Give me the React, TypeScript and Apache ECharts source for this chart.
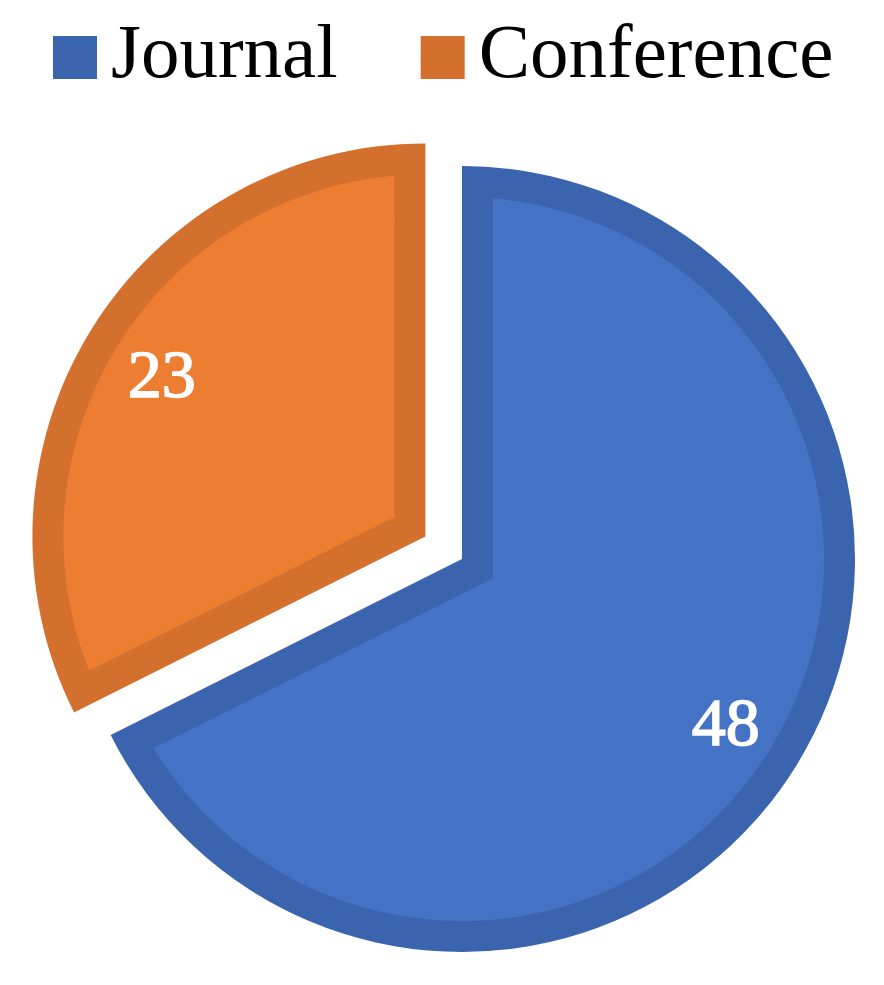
import React, { useEffect, useRef } from 'react';
import * as echarts from 'echarts';

// ---- data ----
const categories: string[] = ['Journal', 'Conference'];
const values: number[] = [48, 23];
const exploded: boolean[] = [false, true];

// ---- styling ----
const borderColors = ['#3B64AE', '#D4702E'];
const fillColors = ['#4472C4', '#ED7D31'];
const CENTER: [number, number] = [462, 559];
const RADIUS = 393;
const BORDER = 31;
const EXPLODE = 43;
const LABEL_R = 310;
const FONT = "'Liberation Serif', 'Times New Roman', serif";

// clock angle (0 = up, clockwise) -> unit vector in screen coords
const dir = (a: number): [number, number] => [Math.sin(a), -Math.cos(a)];
const norm = (x: number) => {
  while (x > Math.PI) x -= 2 * Math.PI;
  while (x <= -Math.PI) x += 2 * Math.PI;
  return x;
};

export default function App() {
  const ref = useRef<HTMLDivElement>(null);

  useEffect(() => {
    if (!ref.current) return;
    const chart = echarts.init(ref.current, null, { renderer: 'svg' });
    const total = values.reduce((s, v) => s + v, 0);

    const renderItem = (params: any, api: any) => {
      const i = params.dataIndex;
      const v = api.value(0);
      let before = 0;
      for (let k = 0; k < i; k++) before += values[k];
      const a0 = (before / total) * 2 * Math.PI;
      const a1 = ((before + v) / total) * 2 * Math.PI;
      const span = a1 - a0;
      const am = (a0 + a1) / 2;
      const m = dir(am);
      const off = exploded[i] ? EXPLODE : 0;
      const P: [number, number] = [CENTER[0] + m[0] * off, CENTER[1] + m[1] * off];
      const d = BORDER / Math.sin(span / 2);
      const qx = m[0] * d;
      const qy = m[1] * d;
      const Ri = RADIUS - BORDER;
      const hit = (a: number): [number, number] => {
        const u = dir(a);
        const b = qx * u[0] + qy * u[1];
        const c = qx * qx + qy * qy - Ri * Ri;
        const t = -b + Math.sqrt(b * b - c);
        return [qx + t * u[0], qy + t * u[1]];
      };
      const e0 = hit(a0);
      const e1 = hit(a1);
      const phi0 = a0 + norm(Math.atan2(e0[0], -e0[1]) - a0);
      const phi1 = a1 + norm(Math.atan2(e1[0], -e1[1]) - a1);
      const pts: number[][] = [[P[0] + qx, P[1] + qy]];
      const steps = Math.max(8, Math.ceil(((phi1 - phi0) * 180) / Math.PI / 0.5));
      for (let s = 0; s <= steps; s++) {
        const phi = phi0 + ((phi1 - phi0) * s) / steps;
        const u = dir(phi);
        pts.push([P[0] + Ri * u[0], P[1] + Ri * u[1]]);
      }
      return {
        type: 'group',
        children: [
          { type: 'polygon', shape: { points: pts }, style: { fill: fillColors[i] } },
          {
            type: 'text',
            x: P[0] + LABEL_R * m[0],
            y: P[1] + LABEL_R * m[1],
            style: {
              text: String(v),
              fill: '#ffffff',
              fontSize: 68,
              fontFamily: FONT,
              align: 'center',
              verticalAlign: 'middle',
              stroke: '#ffffff',
              lineWidth: 1.6,
            },
          },
        ],
      };
    };

    chart.setOption({
      animation: false,
      backgroundColor: '#ffffff',
      legend: {
        data: categories,
        left: 53,
        top: 12,
        padding: 0,
        icon: 'rect',
        itemWidth: 44,
        itemHeight: 43,
        itemGap: 83,
        selectedMode: false,
        formatter: (name: string) => `{t|${name}}`,
        textStyle: {
          fontSize: 77,
          fontFamily: FONT,
          color: '#000000',
          rich: {
            t: { fontSize: 77, fontFamily: FONT, color: '#000000', padding: [0, 0, 14, 9] },
          },
        },
      },
      series: [
        {
          type: 'pie',
          name: 'Publications',
          center: CENTER,
          radius: RADIUS,
          startAngle: 90,
          clockwise: true,
          selectedMode: 'single',
          selectedOffset: EXPLODE,
          label: { show: false },
          labelLine: { show: false },
          emphasis: { disabled: true },
          data: categories.map((name, i) => ({
            name,
            value: values[i],
            selected: exploded[i],
            itemStyle: { color: borderColors[i], borderWidth: 0 },
            select: { itemStyle: { color: borderColors[i], borderWidth: 0 } },
          })),
        },
        {
          type: 'custom',
          name: 'inner',
          coordinateSystem: 'none',
          silent: true,
          z: 5,
          renderItem,
          data: values.map((v) => [v]),
        },
      ],
    });

    return () => chart.dispose();
  }, []);

  return (
    <div
      ref={ref}
      style={{ position: 'fixed', left: 0, top: 0, width: 884, height: 985 }}
    />
  );
}
